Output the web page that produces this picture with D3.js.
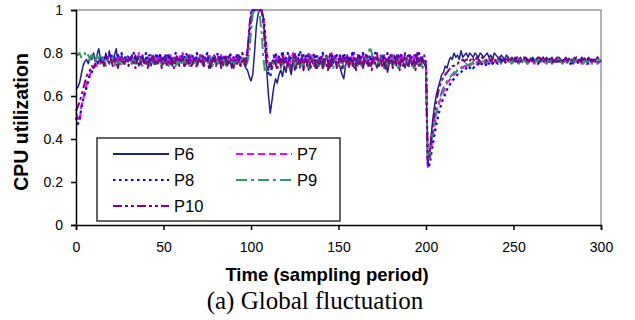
<!DOCTYPE html>
<html>
<head>
<meta charset="utf-8">
<script src="https://cdn.jsdelivr.net/npm/d3@7"></script>
<style>
  body { margin: 0; background: #fff; }
  svg { display: block; }
  .tick text { font-family: "Liberation Sans", Arial, sans-serif; }
</style>
</head>
<body>
<div id="chart"></div>
<script>
// series labels and axis ticks
const seriesNames = ["P6", "P7", "P8", "P9", "P10"];
const xTicks = [0, 50, 100, 150, 200, 250, 300];
const yTicks = [0, 0.2, 0.4, 0.6, 0.8, 1];

// CPU utilization per sampling period (t = 0..300)
const p6 = [
  .63,.64,.66,.70,.74,.76,.77,.75,.78,.77, .80,.76,.79,.82,.77,.78,.75,.80,.76,.81,
  .77,.76,.79,.82,.75,.78,.76,.77,.75,.78, .76,.78,.75,.77,.79,.76,.74,.78,.77,.75,
  .78,.76,.77,.74,.79,.76,.78,.75,.77,.76, .78,.75,.77,.79,.76,.74,.77,.78,.75,.77,
  .76,.78,.74,.77,.79,.75,.76,.78,.77,.75, .77,.79,.76,.74,.78,.76,.77,.73,.76,.78,
  .75,.77,.76,.79,.74,.77,.78,.75,.76,.73, .77,.75,.78,.76,.74,.77,.75,.73,.72,.69,
  .67,.70,.80,.92,.98,1.0,1.0,.97,.86,.72, .60,.52,.58,.64,.68,.66,.70,.72,.69,.74,
  .71,.76,.73,.70,.77,.72,.75,.78,.73,.76, .74,.78,.75,.72,.79,.76,.74,.77,.73,.78,
  .75,.77,.74,.79,.76,.73,.78,.75,.77,.74, .76,.73,.70,.68,.74,.77,.75,.78,.76,.73,
  .77,.75,.79,.74,.76,.78,.75,.77,.74,.76, .78,.75,.73,.77,.76,.79,.74,.76,.71,.75,
  .77,.76,.79,.74,.77,.75,.78,.76,.73,.77, .75,.78,.74,.76,.79,.75,.77,.74,.76,.75,
  .73,.30,.33,.42,.50,.56,.61,.64,.67,.70, .71,.74,.73,.76,.78,.77,.80,.78,.79,.77,
  .81,.78,.79,.80,.78,.80,.79,.78,.80,.79, .78,.80,.79,.78,.79,.80,.78,.79,.77,.80,
  .79,.78,.77,.79,.78,.77,.79,.78,.76,.78, .77,.78,.76,.77,.78,.76,.77,.78,.77,.76,
  .77,.78,.76,.77,.76,.78,.77,.76,.77,.78, .76,.77,.78,.76,.77,.76,.78,.77,.76,.77,
  .78,.76,.77,.76,.77,.78,.76,.77,.76,.78, .77,.76,.77,.78,.76,.77,.76,.77,.78,.76,
  .77
];
const p7 = [
  .52,.50,.48,.55,.58,.62,.65,.68,.70,.72, .73,.75,.74,.76,.77,.75,.78,.76,.77,.79,
  .76,.78,.75,.77,.79,.76,.78,.77,.75,.78, .77,.79,.76,.78,.75,.77,.80,.76,.78,.77,
  .75,.78,.76,.79,.77,.75,.78,.76,.80,.77, .76,.78,.75,.77,.79,.76,.78,.75,.77,.79,
  .76,.80,.77,.75,.78,.76,.79,.77,.75,.78, .77,.79,.76,.78,.75,.77,.80,.76,.78,.77,
  .75,.78,.77,.79,.76,.78,.75,.77,.79,.76, .78,.76,.79,.77,.75,.78,.76,.77,.82,.90,
  .97,1.0,1.0,1.0,1.0,.99,1.0,.96,.88,.80, .76,.74,.77,.75,.79,.76,.78,.75,.77,.79,
  .76,.78,.75,.77,.80,.76,.78,.75,.77,.79, .76,.78,.77,.75,.79,.76,.78,.77,.75,.78,
  .77,.79,.76,.78,.75,.77,.80,.76,.78,.77, .75,.78,.76,.79,.77,.75,.78,.76,.80,.77,
  .76,.78,.75,.77,.79,.76,.78,.75,.77,.79, .76,.78,.77,.75,.79,.76,.78,.77,.75,.78,
  .77,.79,.76,.78,.75,.77,.80,.76,.78,.77, .75,.78,.76,.79,.77,.75,.78,.76,.77,.75,
  .74,.27,.29,.36,.42,.47,.52,.55,.58,.60, .62,.64,.66,.67,.68,.69,.70,.71,.72,.72,
  .73,.73,.74,.74,.75,.74,.75,.75,.76,.75, .76,.75,.76,.76,.75,.76,.77,.76,.75,.76,
  .77,.76,.76,.77,.75,.76,.77,.76,.76,.75, .76,.77,.76,.75,.77,.76,.76,.77,.75,.76,
  .77,.76,.75,.77,.76,.77,.76,.75,.76,.77, .76,.77,.75,.76,.77,.76,.77,.76,.75,.76,
  .77,.76,.76,.77,.75,.76,.77,.76,.76,.75, .76,.77,.76,.75,.77,.76,.76,.77,.75,.76,
  .76
];
const p8 = [
  .50,.47,.49,.54,.58,.61,.64,.67,.70,.71, .73,.74,.76,.75,.77,.78,.76,.79,.77,.78,
  .80,.77,.78,.76,.79,.77,.80,.76,.78,.77, .79,.76,.78,.80,.77,.76,.79,.77,.78,.76,
  .80,.77,.79,.76,.78,.77,.80,.76,.79,.77, .78,.76,.80,.77,.79,.76,.78,.80,.77,.76,
  .79,.77,.78,.80,.76,.78,.77,.79,.76,.80, .77,.78,.76,.79,.77,.80,.76,.78,.77,.79,
  .76,.80,.77,.78,.76,.79,.77,.78,.80,.76, .78,.77,.79,.76,.78,.80,.77,.76,.80,.88,
  .96,1.0,1.0,1.0,1.0,1.0,.99,.97,.90,.78, .70,.69,.74,.77,.80,.76,.79,.77,.81,.76,
  .78,.80,.76,.79,.77,.80,.76,.78,.81,.77, .79,.76,.80,.77,.78,.76,.80,.77,.79,.76,
  .78,.80,.77,.79,.76,.78,.80,.77,.76,.79, .77,.78,.76,.80,.77,.79,.76,.78,.80,.77,
  .76,.79,.77,.78,.80,.76,.78,.77,.79,.76, .78,.80,.77,.76,.79,.77,.78,.76,.80,.77,
  .79,.76,.78,.77,.80,.76,.79,.77,.78,.76, .80,.77,.78,.76,.79,.77,.80,.76,.78,.77,
  .76,.27,.28,.33,.38,.43,.47,.51,.54,.57, .59,.61,.63,.64,.66,.67,.68,.69,.70,.71,
  .71,.72,.72,.73,.72,.73,.74,.73,.74,.74, .75,.74,.75,.75,.74,.76,.75,.76,.75,.76,
  .76,.75,.76,.77,.76,.76,.75,.77,.76,.77, .76,.77,.75,.76,.77,.76,.77,.76,.75,.77,
  .76,.77,.76,.77,.75,.76,.77,.76,.77,.76, .75,.77,.76,.77,.76,.76,.75,.77,.76,.77,
  .76,.77,.76,.74,.77,.76,.77,.75,.76,.77, .76,.77,.75,.76,.77,.76,.77,.76,.75,.77,
  .76
];
const p9 = [
  .80,.79,.80,.78,.79,.80,.78,.79,.77,.80, .78,.76,.79,.77,.75,.78,.76,.74,.77,.75,
  .76,.78,.74,.77,.75,.76,.74,.77,.75,.78, .74,.76,.75,.77,.74,.76,.78,.75,.74,.77,
  .75,.77,.74,.76,.75,.78,.74,.76,.77,.74, .76,.75,.78,.74,.76,.75,.77,.74,.76,.75,
  .77,.74,.76,.78,.75,.74,.77,.75,.76,.74, .76,.78,.75,.74,.77,.75,.76,.78,.74,.76,
  .75,.77,.74,.76,.78,.75,.74,.77,.75,.76, .74,.77,.75,.76,.74,.78,.75,.74,.76,.80,
  .90,.98,1.0,1.0,1.0,.98,.90,.78,.71,.73, .75,.73,.77,.74,.76,.75,.78,.73,.76,.74,
  .77,.75,.73,.76,.78,.74,.75,.77,.73,.76, .74,.77,.75,.73,.76,.78,.74,.75,.77,.74,
  .76,.73,.75,.78,.74,.76,.75,.73,.77,.75, .74,.76,.78,.73,.75,.77,.74,.76,.75,.73,
  .76,.74,.77,.75,.73,.76,.78,.79,.83,.80, .77,.75,.74,.76,.78,.75,.73,.76,.74,.77,
  .75,.78,.74,.76,.73,.77,.75,.74,.76,.78, .74,.76,.75,.73,.77,.75,.74,.76,.73,.75,
  .74,.30,.31,.38,.44,.49,.53,.56,.59,.62, .64,.65,.67,.68,.69,.70,.71,.71,.72,.73,
  .73,.74,.74,.75,.74,.75,.75,.76,.75,.76, .76,.75,.76,.76,.77,.76,.76,.75,.77,.76,
  .76,.77,.76,.75,.77,.76,.76,.77,.76,.75, .77,.76,.76,.75,.77,.76,.77,.76,.75,.77,
  .76,.75,.77,.76,.77,.75,.76,.77,.76,.75, .77,.76,.76,.77,.75,.76,.77,.76,.75,.77,
  .76,.75,.77,.76,.76,.77,.75,.76,.77,.76, .75,.77,.76,.77,.76,.75,.77,.76,.76,.77,
  .76
];
const p10 = [
  .53,.55,.57,.60,.63,.66,.69,.71,.72,.74, .73,.75,.74,.76,.75,.77,.74,.76,.78,.75,
  .77,.74,.78,.76,.73,.77,.79,.75,.76,.78, .74,.77,.79,.75,.73,.78,.76,.74,.79,.75,
  .77,.73,.78,.76,.79,.74,.77,.75,.78,.73, .76,.79,.74,.77,.75,.78,.73,.77,.79,.74,
  .76,.78,.73,.77,.75,.79,.74,.76,.78,.73, .77,.75,.79,.74,.76,.78,.73,.77,.75,.79,
  .74,.76,.78,.73,.77,.79,.75,.74,.78,.76, .73,.77,.75,.79,.74,.76,.78,.74,.80,.92,
  .99,1.0,1.0,1.0,1.0,1.0,1.0,.95,.82,.74, .72,.76,.73,.79,.75,.72,.78,.74,.80,.73,
  .77,.74,.79,.72,.76,.80,.73,.77,.75,.79, .72,.78,.74,.80,.73,.76,.79,.72,.77,.75,
  .79,.73,.78,.75,.72,.80,.74,.77,.79,.73, .76,.80,.72,.78,.75,.79,.73,.77,.74,.80,
  .72,.78,.75,.79,.73,.77,.80,.74,.76,.72, .78,.75,.80,.73,.77,.74,.79,.72,.78,.75,
  .80,.73,.77,.75,.79,.72,.78,.74,.80,.76, .73,.79,.75,.77,.72,.80,.74,.78,.75,.79,
  .74,.29,.32,.40,.47,.53,.58,.62,.65,.67, .69,.70,.71,.72,.73,.74,.74,.75,.75,.76,
  .76,.77,.76,.77,.77,.76,.78,.77,.76,.78, .77,.76,.78,.77,.76,.77,.78,.76,.77,.78,
  .76,.77,.78,.76,.77,.76,.78,.77,.76,.78, .77,.76,.78,.77,.76,.77,.78,.76,.77,.76,
  .78,.77,.76,.77,.78,.76,.77,.78,.76,.77, .76,.78,.77,.76,.77,.78,.76,.77,.76,.78,
  .77,.76,.78,.77,.76,.77,.78,.76,.77,.76, .78,.77,.76,.77,.78,.76,.77,.76,.78,.77,
  .76
];

const seriesValues = [p6, p7, p8, p9, p10];

// line styles per series
const styles = [
  { color: "#1f1f8c", dash: null, width: 1.5 },
  { color: "#ff00ff", dash: "7,4", width: 2 },
  { color: "#0000ff", dash: "2.5,3.5", width: 2.2 },
  { color: "#339966", dash: "11,4,3,4", width: 2 },
  { color: "#800080", dash: "9,3,3,3,3,3", width: 2 }
];

let width = 635,
  height = 320;
let plotLeft = 76,
  plotRight = 601,
  plotTop = 10,
  plotBottom = 225;

let svg = d3
  .select("#chart")
  .append("svg")
  .attr("width", width)
  .attr("height", height);

// scales
let xScale = d3.scaleLinear().domain([0, 300]).range([plotLeft, plotRight]);
let yScale = d3.scaleLinear().domain([0, 1]).range([plotBottom, plotTop]);

// plot frame (top and right edges)
svg
  .append("path")
  .attr("d", "M" + plotLeft + "," + plotTop + "H" + plotRight + "V" + plotBottom)
  .attr("fill", "none")
  .attr("stroke", "#9a9a9a")
  .attr("stroke-width", 1.5);

// series lines
let line = d3
  .line()
  .x((d, i) => xScale(i))
  .y(d => yScale(d));

seriesValues.forEach((vals, k) => {
  svg
    .append("path")
    .datum(vals)
    .attr("d", line)
    .attr("fill", "none")
    .attr("stroke", styles[k].color)
    .attr("stroke-width", styles[k].width)
    .attr("stroke-dasharray", styles[k].dash)
    .attr("stroke-linejoin", "round");
});

// y axis
svg
  .append("g")
  .attr("transform", "translate(" + plotLeft + ",0)")
  .call(
    d3.axisLeft(yScale)
      .tickValues(yTicks)
      .tickSize(5)
      .tickPadding(8)
      .tickFormat(d => d3.format("")(+d.toFixed(1)))
  )
  .call(g => g.selectAll("text").attr("font-size", 14).attr("fill", "#000"))
  .call(g => g.selectAll("line, path").attr("stroke", "#000").attr("stroke-width", 1.5));

// x axis
svg
  .append("g")
  .attr("transform", "translate(0," + plotBottom + ")")
  .call(d3.axisBottom(xScale).tickValues(xTicks).tickSize(5).tickPadding(12))
  .call(g => g.selectAll("text").attr("font-size", 14).attr("fill", "#000"))
  .call(g => g.selectAll("line, path").attr("stroke", "#000").attr("stroke-width", 1.5));

// axis titles
svg
  .append("text")
  .text("CPU utilization")
  .attr("transform", "translate(28," + 122 + ") rotate(-90)")
  .attr("text-anchor", "middle")
  .attr("font-family", "Liberation Sans, Arial, sans-serif")
  .attr("font-weight", "bold")
  .attr("font-size", 19.5);

svg
  .append("text")
  .text("Time (sampling period)")
  .attr("x", 327)
  .attr("y", 281)
  .attr("text-anchor", "middle")
  .attr("font-family", "Liberation Sans, Arial, sans-serif")
  .attr("font-weight", "bold")
  .attr("font-size", 18.5);

svg
  .append("text")
  .text("(a) Global fluctuation")
  .attr("x", 315)
  .attr("y", 309)
  .attr("text-anchor", "middle")
  .attr("font-family", "Liberation Serif, Times New Roman, serif")
  .attr("font-size", 25);

// legend
let legend = svg.append("g").attr("transform", "translate(97,138)");

legend
  .append("rect")
  .attr("width", 243)
  .attr("height", 83)
  .attr("fill", "#fff")
  .attr("stroke", "#333")
  .attr("stroke-width", 1.5);

let items = legend
  .selectAll("g.item")
  .data(seriesNames)
  .enter()
  .append("g")
  .attr("class", "item")
  .attr("transform", (d, i) => "translate(" + (16 + (i % 2) * 123) + "," + (16 + Math.floor(i / 2) * 26) + ")");

items
  .append("line")
  .attr("x1", 0)
  .attr("x2", 56)
  .attr("stroke", (d, i) => styles[i].color)
  .attr("stroke-width", 2.2)
  .attr("stroke-dasharray", (d, i) => styles[i].dash);

items
  .append("text")
  .text(d => d)
  .attr("x", 61)
  .attr("y", 5.5)
  .attr("font-family", "Liberation Sans, Arial, sans-serif")
  .attr("font-size", 16.5);
</script>
</body>
</html>
